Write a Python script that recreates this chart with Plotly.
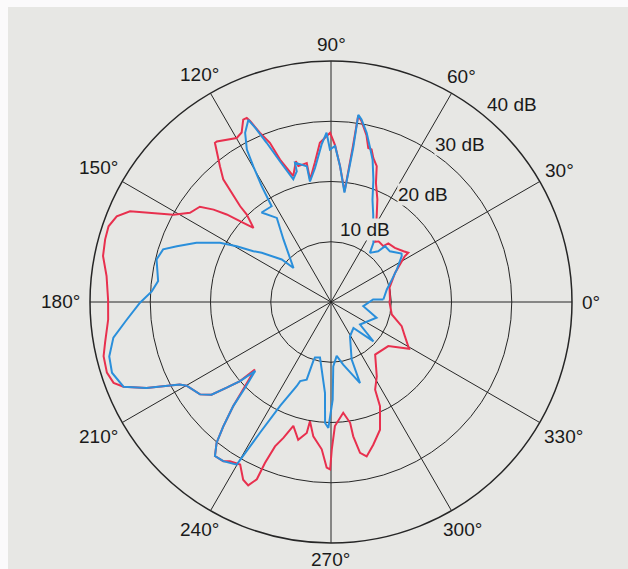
import math
import plotly.graph_objects as go

# Radiation pattern levels (dB) against bearing (degrees), traced counter-clockwise
red_theta = [0, 2.5, 13.7, 24.5, 31.8, 32.5, 35, 40.3, 45.6, 46.9, 52.1, 53.8, 62.4, 65.7, 69.3,
             71.4, 73.6, 75.1, 76.4, 78, 80.5, 81.7, 82, 83, 86.2, 88.5, 90.3, 94, 96.6, 99.7,
             99.9, 103.5, 104, 106.7, 109.7, 111, 112.8, 114.1, 114.6, 115.7, 117.8, 119.9,
             125.4, 126.1, 129.3, 131.3, 133.5, 133.9, 136.3, 137.9, 140, 141.8, 144, 147.7,
             151, 155.7, 158.2, 161.2, 164.5, 168.6, 173.4, 179.4, 184.5, 190.2, 193.4, 197.5,
             200.4, 202.2, 205, 208.6, 210.1, 215.2, 217.8, 219.4, 221, 221.6, 224.9, 226.8,
             229.1, 230.9, 233, 235.9, 237.6, 240.8, 243.7, 245.7, 247.3, 247.7, 248.8, 250.7,
             253.1, 256.6, 259.5, 260, 262.5, 266.4, 268.5, 269.7, 270.3, 271.8, 276.3, 279,
             279.4, 280.9, 283, 286.5, 291, 295.2, 296.7, 301.6, 310, 322.4, 329.1, 335.2,
             341.1, 348.4, 360]
red_db = [9.7, 9.8, 10.0, 11.7, 14.4, 15.2, 14.7, 13.9, 13.6, 12.7, 12.8, 12.4, 16.4, 18.7, 21.1,
          23.8, 24.9, 26.2, 26.3, 28.3, 30.5, 31.2, 26.0, 18.5, 22.6, 26.0, 28.1, 26.5, 23.3, 20.6,
          23.4, 23.2, 24.1, 21.8, 25.1, 28.3, 30.5, 32.9, 33.6, 33.6, 31.8, 31.4,
          32.7, 32.7, 29.1, 27.1, 21.9, 20.2, 17.8, 19.6, 22.6, 24.8, 26.9, 27.7,
          29.9, 36.6, 38.3, 39.0, 38.9, 38.6, 37.5, 37.0, 37.1, 38.1, 38.8, 39.0,
          38.5, 37.2, 33.8, 28.6, 27.7, 26.6, 25.1, 22.4, 20.0, 16.9, 20.6, 23.7,
          27.3, 30.1, 32.0, 31.9, 31.3, 30.9, 32.9, 33.4, 31.9, 28.9, 25.7, 23.9,
          21.5, 23.5, 22.1, 20.1, 22.5, 24.5, 27.5, 27.8, 24.5, 20.6, 18.5, 20.3,
          22.6, 25.5, 26.3, 24.7, 22.7, 19.1, 16.3, 14.5, 11.4, 12.0, 15.1, 13.5,
          12.4, 10.3, 9.7]

blue_theta = [2.7, 12.7, 20.3, 26.3, 33, 34.5, 40.7, 45.9, 47.1, 51.6, 54.4, 64.2, 67.9, 70.9,
              73.7, 76, 78.1, 80.5, 81.7, 81.8, 83, 86.2, 88.5, 90.4, 91.5, 93.4, 96.8, 99.9,
              100.1, 104.5, 104.7, 107.1, 110, 112, 113.5, 114.4, 116.9, 118.9, 119.8, 120.9,
              121.8, 127.8, 122.8, 127.3, 137.8, 139.2, 144.6, 146.8, 149.4, 151.9, 156.2,
              160.1, 162.6, 166.3, 173.1, 176.6, 180.2, 184.9, 189.3, 193.8, 197.9, 202.2,
              205, 208.6, 210.1, 215.2, 217.8, 219.4, 221, 222.3, 225, 226.8, 229.1, 230.9,
              233, 235.9, 239.9, 241.5, 243.9, 247.8, 248.7, 252.6, 253.3, 253.9, 258.8,
              266.2, 267.2, 268.8, 271, 272, 276, 281, 289.7, 289.8, 299, 310.8, 317.2,
              322.2, 340.9, 352.6, 363.4, 362.7]
blue_db = [8.7, 9.5, 10.8, 12.2, 14.0, 14.2, 12.9, 12.9, 11.5, 10.4, 12.1, 16.1, 18.3, 21.5,
           24.6, 26.6, 28.7, 30.7, 31.4, 25.9, 18.3, 22.6, 25.9, 25.3, 28.1, 26.2, 22.4, 20.3,
           22.9, 23.9, 22.4, 21.3, 24.9, 28.5, 31.5, 33.2, 31.5, 28.9, 25.9, 22.4,
           18.7, 18.8, 16.6, 13.0, 8.4, 10.8, 14.1, 15.4, 18.2, 20.9, 24.4,
           27.2, 29.2, 29.8, 28.9, 29.8, 31.7, 34.0, 36.6, 37.9, 38.2, 37.2,
           33.8, 28.6, 27.7, 26.6, 25.1, 22.4, 20.0, 17.0, 20.2, 23.7, 27.3, 30.1,
           32.0, 31.9, 31.2, 24.7, 19.2, 15.1, 14.1, 13.5, 10.2, 9.6, 9.4,
           15.1, 20.1, 20.9, 16.2, 10.7, 9.0, 10.6, 14.3, 10.1, 6.5, 5.7, 9.6,
           6.1, 8.0, 5.4, 7.0, 8.7]

angle_ticks = [0, 30, 60, 90, 120, 150, 180, 210, 240, 270, 300, 330]
angle_labels = [f"{a}°" for a in angle_ticks]
db_rings = [10, 20, 30, 40]
db_labels = [f"{v} dB" for v in db_rings]

R_MAX = 40
PAPER = "#e7e7e4"
INK = "#262626"
TEXT = "#1a1a1a"
FONT = "Liberation Sans, Arial, sans-serif"
FS = 19

W, H = 628, 569
ML, MR, MT, MB = 90, 56, 61, 26
plot_w = W - ML - MR
plot_h = H - MT - MB
px_per_db = plot_w / 2 / R_MAX

fig = go.Figure()
fig.add_trace(go.Scatterpolar(r=red_db, theta=red_theta, mode="lines",
                              line=dict(color="#e8304e", width=2), hoverinfo="skip"))
fig.add_trace(go.Scatterpolar(r=blue_db, theta=blue_theta, mode="lines",
                              line=dict(color="#2a8fdb", width=2), hoverinfo="skip"))


def polar_to_paper(r, a):
    f = 0.5 * r / R_MAX
    return 0.5 + f * math.cos(math.radians(a)), 0.5 + f * math.sin(math.radians(a))


annotations = []

# bearing captions: a fixed gap outside the rim plus the caption's half-extent along the spoke
GAP_PX = 10
for txt, a in zip(angle_labels, angle_ticks):
    w = FS * (0.556 * (len(txt) - 1) + 0.4)
    h = FS * 0.72
    c, s = math.cos(math.radians(a)), math.sin(math.radians(a))
    half = math.hypot(c * w / 2, s * h / 2)
    rr = R_MAX + (GAP_PX + half) / px_per_db
    x, y = polar_to_paper(rr, a)
    annotations.append(dict(x=x, y=y, xref="paper", yref="paper", text=txt, showarrow=False,
                            font=dict(family=FONT, size=FS, color=TEXT),
                            xanchor="center", yanchor="middle"))

# dB ring captions, set just outside each ring near the 60° spoke
label_r = [13.3, 23.5, 33.8, 44.5]
label_a = [64.9, 49.6, 50.7, 47.4]
for txt, rr, aa in zip(db_labels, label_r, label_a):
    x, y = polar_to_paper(rr, aa)
    annotations.append(dict(x=x, y=y, xref="paper", yref="paper", text=txt, showarrow=False,
                            font=dict(family=FONT, size=FS, color=TEXT),
                            bgcolor=PAPER, borderpad=0, xanchor="center", yanchor="middle"))

# thin white margin along the top and left edges of the sheet
shapes = [
    dict(type="rect", xref="paper", yref="paper", layer="below", line=dict(width=0),
         fillcolor=PAPER,
         x0=(8 - ML) / plot_w, x1=(W - ML) / plot_w + 0.01,
         y0=-MB / plot_h - 0.01, y1=(H - 7 - MB) / plot_h),
]

fig.update_layout(
    width=W, height=H,
    margin=dict(l=ML, r=MR, t=MT, b=MB, pad=0),
    paper_bgcolor="#fbfafb",
    plot_bgcolor=PAPER,
    showlegend=False,
    font=dict(family=FONT, size=FS, color=TEXT),
    shapes=shapes,
    annotations=annotations,
    polar=dict(
        domain=dict(x=[0, 1], y=[0, 1]),
        bgcolor="rgba(0,0,0,0)",
        radialaxis=dict(range=[0, R_MAX], tickvals=db_rings, showticklabels=False,
                        showline=False, ticks="", gridcolor=INK, gridwidth=1.3),
        angularaxis=dict(tickmode="array", tickvals=angle_ticks, ticktext=angle_labels,
                         showticklabels=False,
                         direction="counterclockwise", rotation=0, ticks="",
                         showline=True, linecolor=INK, linewidth=1.5,
                         gridcolor=INK, gridwidth=1.3),
    ),
)

fig.write_html("out.html")
